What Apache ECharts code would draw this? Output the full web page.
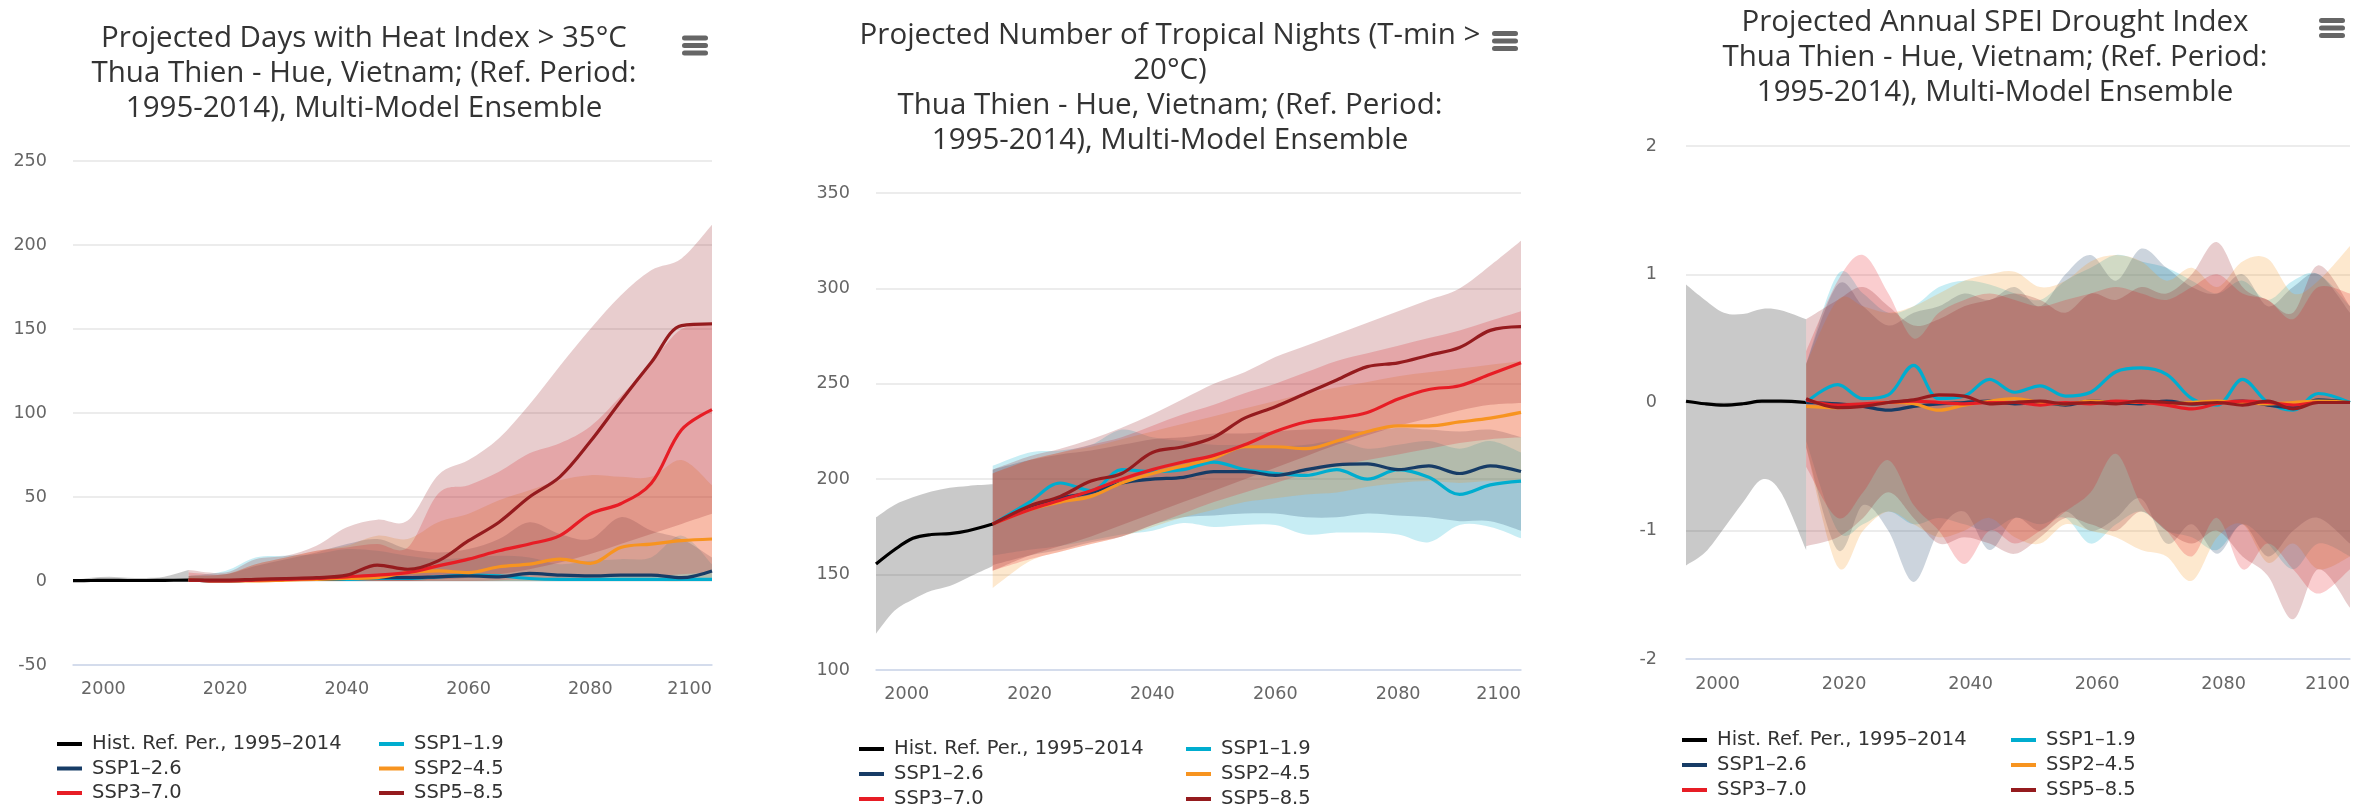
<!DOCTYPE html>
<html>
<head>
<meta charset="utf-8">
<title>Thua Thien - Hue climate projections</title>
<script src="https://cdn.jsdelivr.net/npm/echarts@6/dist/echarts.min.js"></script>
<style>
  html, body { margin: 0; padding: 0; background: #fff; overflow: hidden; }
  #chart { width: 2379px; height: 808px; }
</style>
</head>
<body>
<div id="chart"></div>
<script>
// ---- shared categories ----
const HIST_NAME = 'Hist. Ref. Per., 1995–2014';
const SCENARIOS = ['SSP1–1.9', 'SSP1–2.6', 'SSP2–4.5', 'SSP3–7.0', 'SSP5–8.5'];
const SCENARIO_COLORS = ['#00ADCF', '#173C66', '#F79420', '#E71D25', '#951B1E'];
const HIST_YEARS = [1995, 1998, 2001, 2004, 2007, 2010, 2014];
const PROJ_YEARS = [2014, 2020, 2025, 2030, 2035, 2040, 2045, 2050, 2055, 2060, 2065, 2070, 2075, 2080, 2085, 2090, 2095, 2100];
const SPEI_YEARS = [2014, 2019, 2023, 2027, 2031, 2035, 2039, 2043, 2047, 2051, 2055, 2059, 2063, 2067, 2071, 2075, 2079, 2083, 2087, 2091, 2095, 2100];
const X_TICKS = [2000, 2020, 2040, 2060, 2080, 2100];

// ---- titles ----
const TITLE_HEAT = ['Projected Days with Heat Index > 35°C', 'Thua Thien - Hue, Vietnam; (Ref. Period:', '1995-2014), Multi-Model Ensemble'];
const TITLE_NIGHTS = ['Projected Number of Tropical Nights (T-min >', '20°C)', 'Thua Thien - Hue, Vietnam; (Ref. Period:', '1995-2014), Multi-Model Ensemble'];
const TITLE_SPEI = ['Projected Annual SPEI Drought Index', 'Thua Thien - Hue, Vietnam; (Ref. Period:', '1995-2014), Multi-Model Ensemble'];

// ---- days with heat index > 35°C ----
const heatHist = [0.2, 0.3, 0.4, 0.3, 0.3, 0.4, 0.5];
const heatHistLow = [0, 0, 0, 0, 0, 0, 0];
const heatHistHigh = [0.6, 2, 2.6, 2, 1.8, 2.5, 6.5];
const heatSsp119 = [0.5, 0, 0.5, 1, 1, 1, 1.5, 1.5, 2.5, 3.5, 3, 1.5, 1, 1, 1, 1, 1, 1];
const heatSsp126 = [0.5, 0, 0.5, 1, 1, 1.5, 2, 2, 2.5, 3, 2.5, 4.5, 3.5, 3, 3.5, 3.5, 2, 6];
const heatSsp245 = [0.5, 0, 0, 0.5, 1, 1.5, 2, 5, 6, 5, 8.5, 10, 13, 10.5, 20, 22, 24, 25];
const heatSsp370 = [0.5, 0, 0.5, 1, 1.5, 2.5, 3.5, 5, 9, 13, 18, 22, 27, 40, 46, 58, 90, 102];
const heatSsp585 = [0.5, 0.5, 1, 1.5, 2, 3.5, 9.5, 7, 12, 24, 35, 50, 62, 83, 107, 130, 152, 153];
const heatSsp119Low = [0, 0, 0, 0, 0, 0, 0, 0, 0, 0, 0, 0, 0, 0, 0, 0, 0, 0];
const heatSsp119High = [3, 6, 14, 15, 16, 19, 18, 15, 13, 14, 15, 14, 10, 12, 13, 14, 27, 10];
const heatSsp126Low = [0, 0, 0, 0, 0, 0, 0, 0, 0, 0, 0, 0, 0, 0, 0, 0, 0, 0];
const heatSsp126High = [3, 4, 9, 13, 17, 22, 25, 19, 17, 19, 25, 35, 28, 25, 38, 30, 25, 14];
const heatSsp245Low = [0, 0, 0, 0, 0, 0, 0, 0, 0, 0, 0, 0, 0, 0, 0, 0, 0, 2];
const heatSsp245High = [3, 4, 10, 14, 18, 21, 27, 25, 35, 40, 48, 54, 60, 63, 62, 62, 72, 57];
const heatSsp370Low = [0, 0, 0, 0, 0, 0, 0, 0, 0, 0, 0.5, 1, 1, 2, 3, 3, 4, 5];
const heatSsp370High = [5, 4, 10, 14, 18, 20, 22, 20, 52, 57, 65, 76, 82, 92, 110, 130, 150, 152];
const heatSsp585Low = [0, 0, 0, 0, 0, 0, 0, 0, 1, 2, 4, 7, 11, 16, 22, 28, 34, 40];
const heatSsp585High = [6.5, 5, 13, 15, 21, 32, 36.5, 36, 63, 72, 85, 105, 128, 150, 170, 185, 192, 212];

// ---- tropical nights (T-min > 20°C) ----
const nightsHist = [155.5, 163, 169, 171, 171.5, 173, 176.5];
const nightsHistLow = [119, 131, 137, 141.5, 144, 148.5, 154.5];
const nightsHistHigh = [180, 186.5, 190.5, 193.5, 195.5, 196.5, 197.3];
const nightsSsp119 = [176.5, 188, 198, 194, 205, 204, 205, 209, 205, 203, 202, 205, 200, 205, 201, 192, 197, 199];
const nightsSsp126 = [176.5, 185, 190, 193, 198, 200, 201, 204, 204, 202, 205, 207.5, 208, 205, 207, 203, 207, 204];
const nightsSsp245 = [176.5, 184, 188, 191, 198, 203, 207, 211, 217, 217, 216, 220, 225, 228, 228, 230, 232, 235];
const nightsSsp370 = [176.5, 184, 189, 194, 200, 205, 209, 212.5, 218, 225, 230, 232, 235, 242, 247, 249, 255, 261];
const nightsSsp585 = [176.5, 186, 191, 199, 203, 214, 217, 222, 232, 238, 245, 252, 259, 261, 265, 269, 278, 280];
const nightsSsp119Low = [160, 163, 165, 168, 171, 173, 177, 175, 176, 176, 171, 172, 172, 171, 167, 176, 175, 169];
const nightsSsp119High = [207, 214, 215, 218, 226, 222, 220, 218, 218, 217, 218, 220, 216, 218, 220, 216, 220, 214];
const nightsSsp126Low = [155, 160, 163, 167, 170, 176, 180, 181, 182, 182, 180, 180, 182, 181, 180, 178, 178, 173];
const nightsSsp126High = [205, 210, 213, 215, 218, 221, 222, 224, 224, 225, 226, 226, 225, 227, 226, 225, 226, 222];
const nightsSsp245Low = [143, 157, 162, 166, 170, 175, 180, 184, 188, 190, 192, 193, 196, 198, 199, 198, 199, 198];
const nightsSsp245High = [203, 210, 214, 217, 221, 225, 229, 233, 237, 241, 245, 248, 251, 254, 256, 258, 260, 262];
const nightsSsp370Low = [152, 158, 162, 166, 170, 176, 182, 188, 193, 198, 203, 207, 210, 213, 216, 219, 221, 222];
const nightsSsp370High = [203, 210, 214, 218, 222, 228, 234, 239, 245, 250, 256, 262, 266, 270, 274, 278, 283, 288];
const nightsSsp585Low = [152, 160, 165, 170, 176, 182, 188, 194, 200, 206, 212, 218, 223, 228, 232, 236, 239, 240];
const nightsSsp585High = [205, 212, 216, 221, 227, 234, 242, 250, 256, 264, 270, 276, 282, 288, 294, 300, 312, 325];

// ---- annual SPEI drought index ----
const speiHist = [0.01, -0.01, -0.02, -0.01, 0.01, 0.01, 0.0];
const speiHistLow = [-1.27, -1.17, -0.98, -0.78, -0.6, -0.7, -1.15];
const speiHistHigh = [0.92, 0.8, 0.7, 0.69, 0.73, 0.72, 0.65];
const speiSsp119 = [0, 0.14, 0.03, 0.06, 0.29, 0.03, 0.05, 0.18, 0.08, 0.13, 0.05, 0.08, 0.24, 0.27, 0.22, 0.03, -0.02, 0.18, 0.0, -0.06, 0.07, 0.0];
const speiSsp126 = [0, -0.01, -0.03, -0.06, -0.03, -0.01, 0.0, 0.01, -0.01, 0.0, -0.02, 0.01, 0.0, -0.01, 0.01, -0.01, 0.0, 0.01, -0.02, -0.04, 0.02, 0.0];
const speiSsp245 = [-0.03, -0.04, -0.02, 0.0, -0.01, -0.06, -0.02, 0.01, 0.03, 0.0, -0.01, 0.01, 0.0, 0.0, -0.01, 0.0, 0.01, 0.0, -0.01, 0.0, 0.01, 0.0];
const speiSsp370 = [0.02, -0.02, -0.01, 0.0, 0.01, 0.0, -0.01, 0.0, 0.0, -0.02, 0.0, -0.01, 0.01, 0.0, -0.02, -0.05, -0.01, 0.01, 0.0, -0.02, 0.0, 0.0];
const speiSsp585 = [0.03, -0.04, -0.03, 0.0, 0.02, 0.06, 0.05, -0.01, 0.0, 0.01, -0.01, 0.0, -0.01, 0.01, 0.0, -0.01, 0.0, -0.02, 0.01, -0.05, 0.0, 0.0];
const speiSsp119Low = [-0.3, -1.0, -0.95, -0.85, -0.95, -0.9, -0.95, -1.0, -0.9, -0.95, -0.9, -1.1, -0.95, -0.85, -1.0, -1.05, -1.15, -0.95, -1.1, -1.3, -1.1, -1.2];
const speiSsp119High = [0.3, 1.0, 0.85, 0.7, 0.75, 0.9, 0.95, 0.92, 0.85, 0.8, 0.95, 1.05, 1.15, 1.1, 1.05, 0.95, 0.85, 0.95, 0.8, 0.95, 1.0, 0.75];
const speiSsp126Low = [-0.35, -1.15, -0.8, -1.0, -1.4, -1.0, -0.85, -1.15, -0.9, -1.0, -0.85, -1.0, -0.9, -0.75, -1.1, -0.95, -1.18, -0.95, -1.2, -1.0, -0.9, -1.1];
const speiSsp126High = [0.3, 0.92, 0.75, 0.6, 0.7, 0.75, 0.85, 0.8, 0.9, 0.75, 1.0, 1.15, 0.95, 1.2, 1.05, 0.9, 0.85, 1.0, 0.75, 0.9, 1.0, 0.7];
const speiSsp245Low = [-0.35, -1.28, -1.0, -0.85, -0.95, -1.05, -1.0, -0.9, -1.05, -1.1, -0.95, -1.0, -1.05, -1.15, -1.2, -1.39, -1.05, -0.95, -1.25, -1.1, -1.3, -1.2];
const speiSsp245High = [0.3, 0.8, 0.75, 0.7, 0.75, 0.85, 0.95, 1.0, 1.02, 0.9, 0.95, 1.1, 1.15, 1.1, 0.95, 1.05, 0.9, 1.1, 1.12, 0.85, 0.95, 1.22];
const speiSsp370Low = [-0.5, -0.9, -0.7, -0.45, -0.8, -1.0, -1.26, -1.0, -1.1, -1.0, -0.85, -0.7, -0.4, -0.8, -1.0, -1.2, -0.9, -1.3, -1.1, -1.3, -1.49, -1.3];
const speiSsp370High = [0.4, 0.95, 1.15, 0.85, 0.5, 0.7, 0.8, 0.85, 0.8, 0.75, 0.8, 0.85, 0.9, 0.85, 0.8, 0.9, 1.0, 0.85, 0.8, 0.65, 0.9, 0.85];
const speiSsp585Low = [-1.12, -1.05, -0.9, -0.7, -0.9, -1.1, -1.05, -1.1, -1.18, -1.05, -0.9, -0.95, -1.0, -0.85, -1.0, -1.1, -1.0, -1.2, -1.35, -1.69, -1.3, -1.6];
const speiSsp585High = [0.65, 0.8, 0.9, 0.75, 0.6, 0.65, 0.75, 0.8, 0.85, 0.8, 0.7, 0.85, 0.8, 0.9, 0.85, 1.0, 1.25, 0.9, 0.8, 0.7, 1.07, 0.75];

// ---- panel layout ----
const PANELS = [
  {
    grid: { left: 73, top: 161, width: 639, height: 504 },
    yMin: -50, yMax: 250, yStep: 50, yLabelMargin: 26, xLabelMargin: 15,
    title: { x: 364, y: 38.5, lines: TITLE_HEAT },
    menu: { x: 695, y: 45.5 },
    legend: { left: 57, left2: 379, top: 734, gap: 4.5 },
    hist: [heatHist, heatHistLow, heatHistHigh],
    years: PROJ_YEARS,
    lines: [heatSsp119, heatSsp126, heatSsp245, heatSsp370, heatSsp585],
    lows: [heatSsp119Low, heatSsp126Low, heatSsp245Low, heatSsp370Low, heatSsp585Low],
    highs: [heatSsp119High, heatSsp126High, heatSsp245High, heatSsp370High, heatSsp585High]
  },
  {
    grid: { left: 876, top: 193, width: 645, height: 477 },
    yMin: 100, yMax: 350, yStep: 50, yLabelMargin: 26, xLabelMargin: 15,
    title: { x: 1170, y: 36, lines: TITLE_NIGHTS },
    menu: { x: 1505, y: 41 },
    legend: { left: 859, left2: 1186, top: 739, gap: 5 },
    hist: [nightsHist, nightsHistLow, nightsHistHigh],
    years: PROJ_YEARS,
    lines: [nightsSsp119, nightsSsp126, nightsSsp245, nightsSsp370, nightsSsp585],
    lows: [nightsSsp119Low, nightsSsp126Low, nightsSsp245Low, nightsSsp370Low, nightsSsp585Low],
    highs: [nightsSsp119High, nightsSsp126High, nightsSsp245High, nightsSsp370High, nightsSsp585High]
  },
  {
    grid: { left: 1686, top: 146, width: 664, height: 513 },
    yMin: -2, yMax: 2, yStep: 1, yLabelMargin: 29, xLabelMargin: 16,
    title: { x: 1995, y: 22.5, lines: TITLE_SPEI },
    menu: { x: 2332, y: 28 },
    legend: { left: 1682, left2: 2011, top: 730, gap: 5 },
    hist: [speiHist, speiHistLow, speiHistHigh],
    years: SPEI_YEARS,
    lines: [speiSsp119, speiSsp126, speiSsp245, speiSsp370, speiSsp585],
    lows: [speiSsp119Low, speiSsp126Low, speiSsp245Low, speiSsp370Low, speiSsp585Low],
    highs: [speiSsp119High, speiSsp126High, speiSsp245High, speiSsp370High, speiSsp585High]
  }
];

const SMOOTH = 0.35;
const CURVE_T = 1 / 6;          // Catmull-Rom tension for the band outlines
const BAND_ALPHA = 0.22;
const TITLE_LINE_HEIGHT = 35;

function hexToRgba(hex, a) {
  const n = parseInt(hex.slice(1), 16);
  return 'rgba(' + ((n >> 16) & 255) + ',' + ((n >> 8) & 255) + ',' + (n & 255) + ',' + a + ')';
}

function pairs(years, vals) {
  return years.map((y, i) => [y, vals[i]]);
}

// Smooth SVG path through pixel points (Catmull-Rom converted to cubic Béziers).
function curvePath(pts, cmd) {
  let d = cmd + pts[0][0].toFixed(2) + ' ' + pts[0][1].toFixed(2);
  for (let i = 0; i < pts.length - 1; i++) {
    const p0 = pts[Math.max(i - 1, 0)], p1 = pts[i], p2 = pts[i + 1], p3 = pts[Math.min(i + 2, pts.length - 1)];
    const c1x = p1[0] + (p2[0] - p0[0]) * CURVE_T, c1y = p1[1] + (p2[1] - p0[1]) * CURVE_T;
    const c2x = p2[0] - (p3[0] - p1[0]) * CURVE_T, c2y = p2[1] - (p3[1] - p1[1]) * CURVE_T;
    d += ' C' + c1x.toFixed(2) + ' ' + c1y.toFixed(2) + ' ' + c2x.toFixed(2) + ' ' + c2y.toFixed(2) +
         ' ' + p2[0].toFixed(2) + ' ' + p2[1].toFixed(2);
  }
  return d;
}

// A shaded min/max range drawn as one closed shape in the grid's own coordinates.
function bandSeries(gi, key, years, lo, hi, fill) {
  return {
    type: 'custom', name: key + ' range', xAxisIndex: gi, yAxisIndex: gi,
    silent: true, z: 2, clip: true,
    data: years.map((y, i) => [y, lo[i], hi[i]]),
    encode: { x: 0, y: [1, 2] },
    renderItem: (params, api) => {
      if (params.dataIndex !== 0) return null;
      const upper = years.map((y, i) => api.coord([y, hi[i]]));
      const lower = years.map((y, i) => api.coord([y, lo[i]])).reverse();
      const d = curvePath(upper, 'M') + ' ' + curvePath(lower, 'L') + ' Z';
      return { type: 'path', shape: { pathData: d }, style: { fill: fill, stroke: null } };
    }
  };
}

function lineSeries(gi, name, years, vals, color) {
  return {
    type: 'line', name, xAxisIndex: gi, yAxisIndex: gi,
    data: pairs(years, vals), symbol: 'none', showSymbol: false, smooth: SMOOTH,
    lineStyle: { width: 3.2, color }, itemStyle: { color }, z: 3, silent: true
  };
}

const series = [];
const graphic = [];
const legends = [];
const LEGEND_COL1 = [HIST_NAME, SCENARIOS[1], SCENARIOS[3]];
const LEGEND_COL2 = [SCENARIOS[0], SCENARIOS[2], SCENARIOS[4]];

function legendBlock(left, top, gap, names) {
  return {
    orient: 'vertical', left, top, height: 120, padding: 0,
    itemWidth: 25, itemHeight: 4, itemGap: gap,
    icon: 'rect', selectedMode: false, data: names,
    textStyle: { fontFamily: 'DejaVu Sans', fontSize: 19.5, color: '#333', lineHeight: 20, padding: [0, 0, 0, 5] }
  };
}

PANELS.forEach((p, gi) => {
  // lines are listed first (legend colours come from them), bands sit below by z
  series.push(lineSeries(gi, HIST_NAME, HIST_YEARS, p.hist[0], '#000000'));
  SCENARIOS.forEach((s, k) => {
    series.push(lineSeries(gi, s, p.years, p.lines[k], SCENARIO_COLORS[k]));
  });
  series.push(bandSeries(gi, 'hist', HIST_YEARS, p.hist[1], p.hist[2], 'rgba(0,0,0,0.21)'));
  SCENARIOS.forEach((s, k) => {
    series.push(bandSeries(gi, s, p.years, p.lows[k], p.highs[k], hexToRgba(SCENARIO_COLORS[k], BAND_ALPHA)));
  });

  // title, one text element per line
  p.title.lines.forEach((t, li) => {
    graphic.push({
      type: 'text', x: p.title.x, y: p.title.y + li * TITLE_LINE_HEIGHT, silent: true,
      style: {
        text: t, fontSize: 29.5, fontFamily: 'Open Sans', fill: '#333333',
        textAlign: 'center', textVerticalAlign: 'middle', align: 'center', verticalAlign: 'middle'
      }
    });
  });

  // export-menu burger icon
  [-7.5, 0, 7.5].forEach(dy => {
    graphic.push({
      type: 'rect', x: p.menu.x - 13, y: p.menu.y + dy - 2.5, silent: true,
      shape: { width: 26, height: 5, r: 2.5 }, style: { fill: '#666666' }
    });
  });

  legends.push(legendBlock(p.legend.left, p.legend.top, p.legend.gap, LEGEND_COL1));
  legends.push(legendBlock(p.legend.left2, p.legend.top, p.legend.gap, LEGEND_COL2));
});

const option = {
  animation: false,
  backgroundColor: '#ffffff',
  grid: PANELS.map(p => Object.assign({ containLabel: false }, p.grid)),
  xAxis: PANELS.map((p, gi) => ({
    type: 'value', gridIndex: gi, min: 1995, max: 2100, interval: 5,
    splitLine: { show: false }, axisTick: { show: false },
    axisLine: { show: true, onZero: false, lineStyle: { color: '#ccd6eb', width: 1.5 } },
    axisLabel: {
      formatter: v => (X_TICKS.indexOf(v) >= 0 ? String(v) : ''),
      alignMaxLabel: 'right', margin: p.xLabelMargin,
      color: '#666666', fontFamily: 'DejaVu Sans', fontSize: 17.6
    }
  })),
  yAxis: PANELS.map((p, gi) => ({
    type: 'value', gridIndex: gi, min: p.yMin, max: p.yMax, interval: p.yStep,
    axisLine: { show: false }, axisTick: { show: false },
    splitLine: { lineStyle: { color: '#e6e6e6', width: 1.5 } },
    axisLabel: { margin: p.yLabelMargin, color: '#666666', fontFamily: 'DejaVu Sans', fontSize: 17.6 }
  })),
  legend: legends,
  graphic: graphic,
  series: series
};

const chart = echarts.init(document.getElementById('chart'), null, { renderer: 'canvas' });
chart.setOption(option);
</script>
</body>
</html>
